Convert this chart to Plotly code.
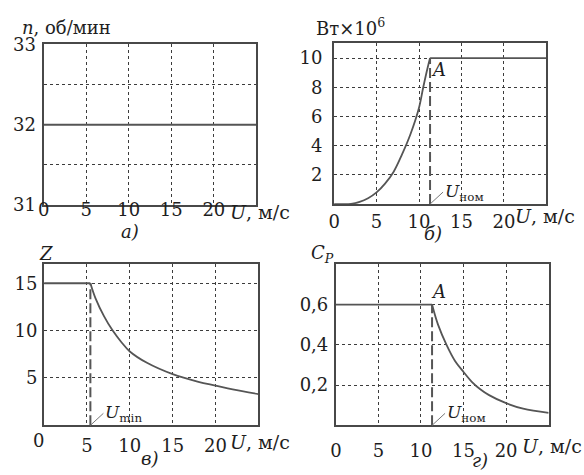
import plotly.graph_objects as go

# ---- data -------------------------------------------------------------
U_NOM = 11.3     # rated wind speed, m/s
U_MIN = 5.4      # minimum wind speed, m/s

# а) rotor speed
u_n = [0, 25]
n_rpm = [32, 32]

# б) power, W x 10^6
u_p = [0, 1, 2, 3, 4, 5, 6, 7, 8, 9, 10, 10.5, 11, 11.3]
p_mw = [0, 0, 0.02, 0.15, 0.4, 0.8, 1.4, 2.2, 3.4, 4.8, 6.6, 8.0, 9.3, 10.0]
u_p_flat = [11.3, 25]
p_flat = [10, 10]

# в) gear ratio Z
u_z_flat = [0, 5.4]
z_flat = [15, 15]
u_z = [5.4, 6, 7, 8, 9, 10, 12, 15, 18, 20, 22, 25]
z_val = [15, 13.4, 11.5, 10.0, 8.8, 7.8, 6.6, 5.4, 4.6, 4.2, 3.8, 3.3]

# г) power coefficient Cp
u_c_flat = [0, 11.3]
cp_flat = [0.6, 0.6]
u_c = [11.3, 12, 13, 14, 15, 16, 17, 18, 20, 22, 25]
cp_val = [0.6, 0.50, 0.40, 0.32, 0.265, 0.215, 0.178, 0.15, 0.11, 0.083, 0.062]

x_ticks = [0, 5, 10, 15, 20]

# ---- styling ----------------------------------------------------------
W, H = 584, 475
FONT = "DejaVu Serif"
FS = 18
TXT = "#1e1e1e"
LINE = "#555555"
FRAME = "#484848"
GRID = "#3c3c3c"


def dom_x(a, b):
    return [a / W, b / W]


def dom_y(top, bottom):
    return [1 - bottom / H, 1 - top / H]


def axis(**kw):
    base = dict(showline=True, mirror=True, linecolor=FRAME, linewidth=2,
                showgrid=True, gridcolor=GRID, gridwidth=1.3, griddash="dot",
                zeroline=False, ticks="", fixedrange=True,
                tickfont=dict(family=FONT, size=FS, color=TXT))
    base.update(kw)
    return base


fig = go.Figure()


def curve(x, y, xa, ya, shape="linear", width=1.8, dash=None):
    fig.add_trace(go.Scatter(x=x, y=y, xaxis=xa, yaxis=ya, mode="lines",
                             line=dict(color=LINE, width=width, shape=shape,
                                       dash=dash),
                             showlegend=False, hoverinfo="skip"))


# а)
curve(u_n, n_rpm, "x", "y")
# б)
curve(u_p, p_mw, "x2", "y2", shape="spline")
curve(u_p_flat, p_flat, "x2", "y2")
curve([U_NOM, U_NOM], [0, p_flat[0]], "x2", "y2", width=2, dash="10px,4px")
# в)
curve(u_z_flat, z_flat, "x3", "y3")
curve(u_z, z_val, "x3", "y3", shape="spline")
curve([U_MIN, U_MIN], [0, z_flat[0]], "x3", "y3", width=2, dash="10px,4px")
# г)
curve(u_c_flat, cp_flat, "x4", "y4")
curve(u_c, cp_val, "x4", "y4", shape="spline")
curve([U_NOM, U_NOM], [0, cp_flat[0]], "x4", "y4", width=2, dash="10px,4px")

fig.update_layout(
    width=W, height=H, autosize=False,
    margin=dict(l=0, r=0, t=0, b=0),
    paper_bgcolor="white", plot_bgcolor="white",
    xaxis=axis(domain=dom_x(38, 253), range=[0, 25], tickvals=x_ticks,
               anchor="y", ticklabelstandoff=-13),
    yaxis=axis(domain=dom_y(35, 203), range=[31, 33],
               tickvals=[31, 31.5, 32, 32.5, 33],
               ticktext=["31", "", "32", "", "33"], anchor="x",
               ticklabelstandoff=2),
    xaxis2=axis(domain=dom_x(331.5, 546), range=[0, 25], tickvals=x_ticks,
                anchor="y2", ticklabelstandoff=0),
    yaxis2=axis(domain=dom_y(34, 202), range=[0, 11],
                tickvals=[2, 4, 6, 8, 10], anchor="x2", ticklabelstandoff=6),
    xaxis3=axis(domain=dom_x(38.5, 255), range=[0, 25],
                tickvals=x_ticks[1:], anchor="y3", ticklabelstandoff=3),
    yaxis3=axis(domain=dom_y(265, 433.5), range=[0, 17],
                tickvals=[5, 10, 15], anchor="x3", ticklabelstandoff=1),
    xaxis4=axis(domain=dom_x(333.3, 548.3), range=[0, 25], tickvals=x_ticks,
                anchor="y4", ticklabelstandoff=8),
    yaxis4=axis(domain=dom_y(265, 433.5), range=[0, 0.8],
                tickvals=[0.2, 0.4, 0.6], ticktext=["0,2", "0,4", "0,6"],
                anchor="x4", ticklabelstandoff=2),
)


def text(t, x, y, xref="paper", yref="paper", xanchor="center",
         yanchor="middle", size=FS):
    fig.add_annotation(text=t, x=x, y=y, xref=xref, yref=yref,
                       xanchor=xanchor, yanchor=yanchor, showarrow=False,
                       font=dict(family=FONT, size=size, color=TXT))


def px(x, y):
    return x / W, 1 - y / H


# axis titles
text("<i>n</i>, об/мин", *px(14, 17), xanchor="left")
text("Вт×10<sup>6</sup>", *px(311, 17), xanchor="left")
text("<i>Z</i>", *px(31, 254), xanchor="left")
text("<i>C<sub>P</sub></i>", *px(306, 254), xanchor="left")

# U, м/с labels next to the last tick
text("<i>U</i>, м/с", *px(224, 210), xanchor="left", size=19)
text("<i>U</i>, м/с", *px(512, 215), xanchor="left", size=19)
text("<i>U</i>, м/с", *px(224, 451), xanchor="left", size=19)
text("<i>U</i>, м/с", *px(519, 455), xanchor="left", size=19)
text("0", *px(33, 449))

# panel captions
text("<i>а)</i>", *px(125, 231))
text("<i>б)</i>", *px(431, 233))
text("<i>в)</i>", *px(145, 468))
text("<i>г)</i>", *px(479, 470))

# point A
text("<i>A</i>", 12.3, 9.2, xref="x2", yref="y2")
text("<i>A</i>", 12.1, 0.665, xref="x4", yref="y4")

# rated / minimum speed markers with leader lines
for lab, xv, xr, yr in [("<i>U</i><sub>ном</sub>", U_NOM, "x2", "y2"),
                        ("<i>U</i><sub>min</sub>", U_MIN, "x3", "y3"),
                        ("<i>U</i><sub>ном</sub>", U_NOM, "x4", "y4")]:
    fig.add_annotation(text=lab, x=xv, y=0, xref=xr, yref=yr,
                       showarrow=True, arrowhead=0, arrowwidth=1,
                       arrowcolor="#777777", ax=13, ay=-12,
                       xanchor="left", yanchor="middle",
                       font=dict(family=FONT, size=17, color=TXT))

fig.write_html("out.html")
